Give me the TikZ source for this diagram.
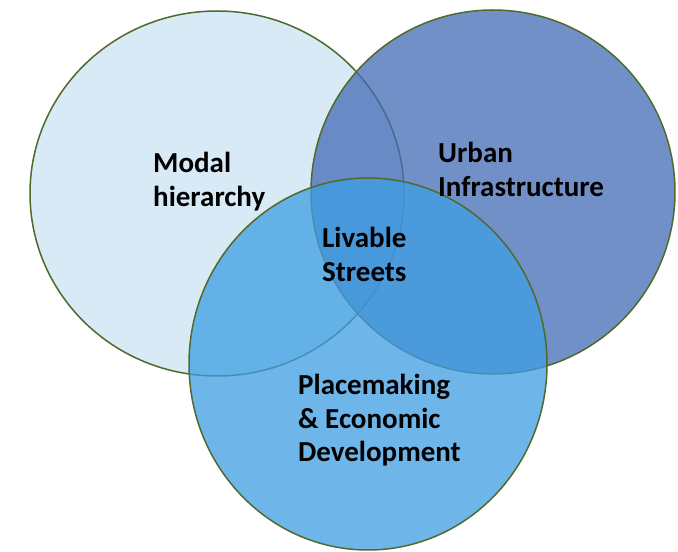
\documentclass[tikz,border=0pt]{standalone}
\usepackage{fontspec}
\setmainfont{Carlito}
\definecolor{ringgreen}{HTML}{4F6A2B}
\definecolor{modalfill}{HTML}{D7EAF5}
\definecolor{urbanfill}{RGB}{68,107,182}
\definecolor{placefill}{RGB}{62,158,228}
\tikzset{
  ring/.style={draw=ringgreen, line width=1.5pt},
  venntext/.style={align=left, anchor=north west, inner sep=0pt,
    font=\fontsize{29}{33.5}\selectfont\bfseries}
}
\begin{document}
\begin{tikzpicture}[x=1pt,y=1pt]
\useasboundingbox[fill=white] (0,0) rectangle (678,552);
% the three circles
\draw[ring, fill=modalfill] (217,358.5) ellipse [x radius=187, y radius=182.5];
\draw[ring, fill=urbanfill, fill opacity=0.75] (493,360) ellipse [x radius=182, y radius=182];
\draw[ring, fill=placefill, fill opacity=0.75] (368,188) ellipse [x radius=179, y radius=186];
% labels
\node[venntext] (modal) at (153,400) {Modal\\hierarchy};
\node[venntext] (urban) at (438,410) {Urban\\Infrastructure};
\node[venntext] (livable) at (322,325) {Livable\\Streets};
\node[venntext] (place) at (298,178) {Placemaking\\\& Economic\\Development};
\end{tikzpicture}
\end{document}
